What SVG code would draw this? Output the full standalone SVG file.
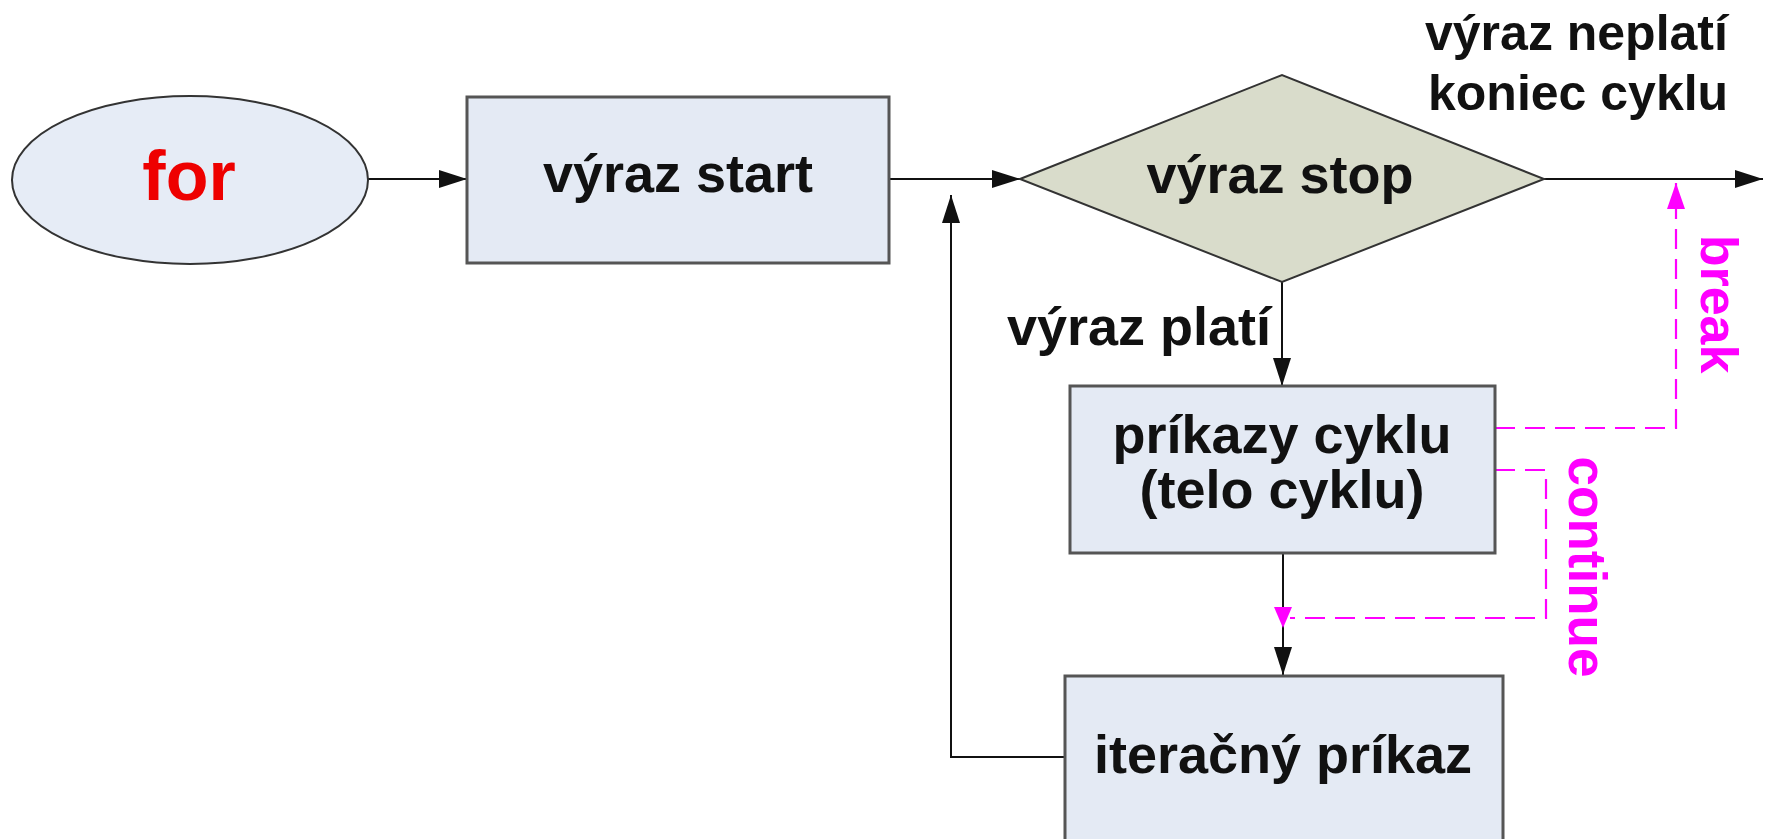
<svg xmlns="http://www.w3.org/2000/svg" width="1774" height="839" viewBox="0 0 1774 839">
  <style>
    .lbl { font-family: "Liberation Sans", Arial, sans-serif; font-weight: bold; fill: #111; }
    .box { fill: #e4eaf4; stroke: #555; stroke-width: 3; }
    .edge { fill: none; stroke: #111; stroke-width: 2; }
    .jump { fill: none; stroke: #ff00ff; stroke-width: 2.2; stroke-dasharray: 20 10; }
    .jumptxt { font-family: "Liberation Sans", Arial, sans-serif; font-weight: bold; fill: #ff00ff; }
  </style>
  <defs>
    <marker id="arrow" markerUnits="userSpaceOnUse" markerWidth="28" markerHeight="18" refX="28" refY="9" orient="auto">
      <path d="M0,0 L28,9 L0,18 z" fill="#111"/>
    </marker>
    <marker id="arrowMag" markerUnits="userSpaceOnUse" markerWidth="26" markerHeight="18" refX="26" refY="9" orient="auto">
      <path d="M0,0 L26,9 L0,18 z" fill="#ff00ff"/>
    </marker>
  </defs>
  <rect width="1774" height="839" fill="#ffffff"/>

  <!-- connectors -->
  <g id="connectors">
    <path class="edge" d="M368,179 H467" marker-end="url(#arrow)"/>
    <path class="edge" d="M889,179 H1020" marker-end="url(#arrow)"/>
    <path class="edge" d="M1544,179 H1763" marker-end="url(#arrow)"/>
    <path class="edge" d="M1282,282 V386" marker-end="url(#arrow)"/>
    <path class="edge" d="M1283,553 V675" stroke="#666" stroke-width="3" marker-end="url(#arrow)"/>
    <path class="edge" d="M1065,757 H951 V195" marker-end="url(#arrow)"/>
    <!-- break: jump out of the loop -->
    <path class="jump" d="M1495,428 H1676 V183" marker-end="url(#arrowMag)"/>
    <!-- continue: jump to the iteration step -->
    <path class="jump" d="M1495,470 H1546 V618 H1290"/>
    <polygon points="1274,607 1292,607 1283,628" fill="#ff00ff"/>
  </g>

  <g id="node-for">
    <ellipse cx="190" cy="180" rx="178" ry="84" fill="#e6ecf6" stroke="#333" stroke-width="2"/>
    <text x="189" y="200" font-family="Liberation Sans, Arial, sans-serif" font-weight="bold" font-size="70" fill="#ee0000" text-anchor="middle">for</text>
  </g>

  <g id="node-start">
    <rect class="box" x="467" y="97" width="422" height="166"/>
    <text class="lbl" x="678" y="192" font-size="54" text-anchor="middle">výraz start</text>
  </g>

  <g id="node-stop">
    <polygon points="1020,179 1282,75 1544,179 1282,282" fill="#d9dccb" stroke="#333" stroke-width="2"/>
    <text class="lbl" x="1280" y="193" font-size="54" text-anchor="middle">výraz stop</text>
  </g>

  <g id="node-body">
    <rect class="box" x="1070" y="386" width="425" height="167"/>
    <text class="lbl" x="1282" y="453" font-size="54" text-anchor="middle">príkazy cyklu</text>
    <text class="lbl" x="1282" y="508" font-size="54" text-anchor="middle">(telo cyklu)</text>
  </g>

  <g id="node-iter">
    <rect class="box" x="1065" y="676" width="438" height="180"/>
    <text class="lbl" x="1283" y="773" font-size="54" text-anchor="middle">iteračný príkaz</text>
  </g>

  <g id="labels">
    <text class="lbl" x="1271" y="345" font-size="54" text-anchor="end">výraz platí</text>
    <text class="lbl" x="1425" y="50" font-size="50">výraz neplatí</text>
    <text class="lbl" x="1428" y="110" font-size="50">koniec cyklu</text>
    <text class="jumptxt" font-size="52" text-anchor="middle" transform="translate(1701,304) rotate(90)">break</text>
    <text class="jumptxt" font-size="53" text-anchor="middle" transform="translate(1569,567) rotate(90)">continue</text>
  </g>
</svg>
